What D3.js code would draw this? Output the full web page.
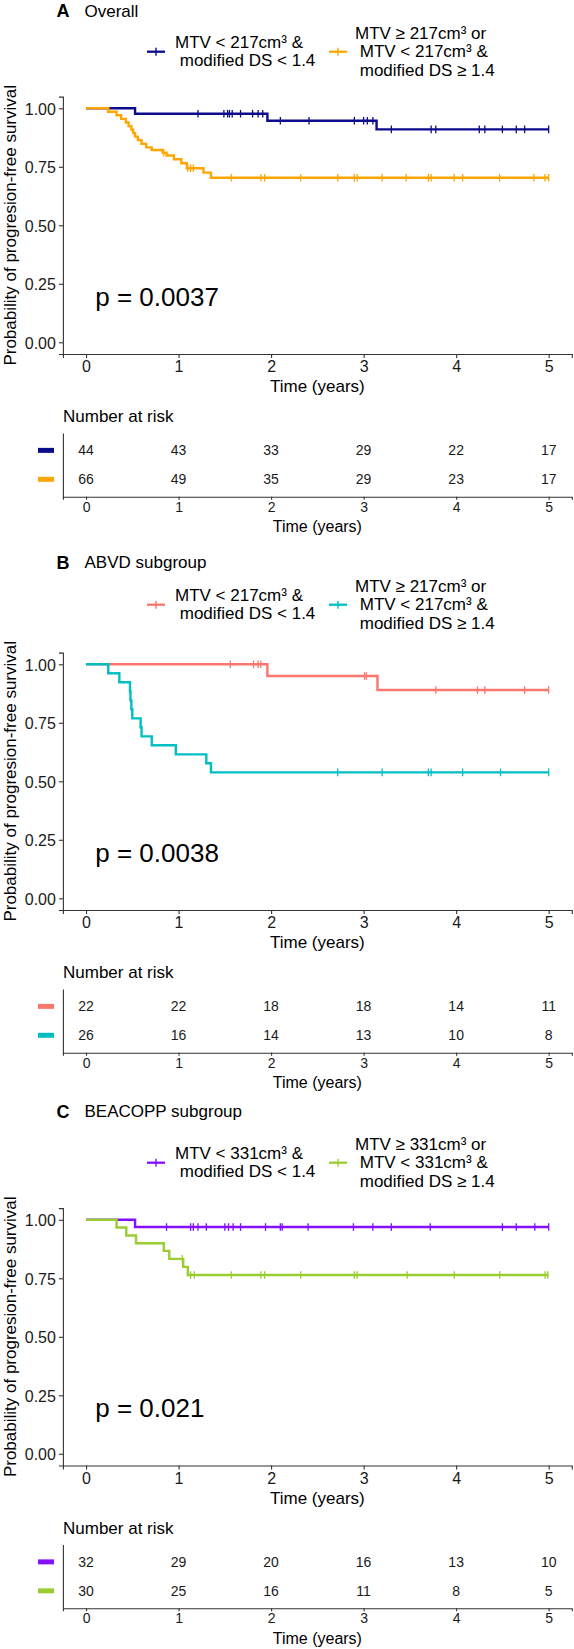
<!DOCTYPE html>
<html><head><meta charset="utf-8">
<script src="https://cdn.jsdelivr.net/npm/d3@7"></script>
<style>
body{margin:0;background:#fff;}
text{font-family:"Liberation Sans",Arial,Helvetica,sans-serif;font-weight:normal;}
</style></head><body>
<svg id="chart" width="574" height="1649" xmlns="http://www.w3.org/2000/svg"></svg>
<script>
// ---------- shared ticks ----------
const timeTicks = [0, 1, 2, 3, 4, 5];
const survTicks = [0, 0.25, 0.5, 0.75, 1];
const survTickLabels = ["0.00", "0.25", "0.50", "0.75", "1.00"];

// ---------- Panel A: Overall ----------
const aLowLabel = ["MTV < 217cm³ &", " modified DS < 1.4"];
const aHighLabel = ["MTV ≥ 217cm³ or", " MTV < 217cm³ &", " modified DS ≥ 1.4"];
const aLowStepT = [0.53, 1.96, 3.14];
const aLowStepS = [0.977, 0.947, 0.910];
const aLowCensor = [1.21, 1.49, 1.53, 1.55, 1.58, 1.67, 1.80, 1.86, 1.91, 2.10, 2.41, 2.90, 3.00, 3.04, 3.10,
                    3.30, 3.73, 3.78, 4.25, 4.31, 4.50, 4.65, 4.74, 5.0];
const aHighStepT = [0.24, 0.33, 0.38, 0.43, 0.46, 0.49, 0.51, 0.53, 0.56, 0.60, 0.65, 0.71, 0.83, 0.87, 0.95, 1.03, 1.09, 1.27, 1.35];
const aHighStepS = [0.985, 0.970, 0.955, 0.939, 0.924, 0.909, 0.894, 0.879, 0.864, 0.848, 0.833, 0.822, 0.810, 0.798, 0.782, 0.765, 0.744, 0.725, 0.703];
const aHighCensor = [0.84, 1.10, 1.13, 1.16, 1.57, 1.89, 1.93, 2.32, 2.72, 2.90, 2.93, 3.20, 3.46, 3.70, 3.73,
                     3.98, 4.07, 4.47, 4.84, 4.96, 5.0];
const aRiskLow = [44, 43, 33, 29, 22, 17];
const aRiskHigh = [66, 49, 35, 29, 23, 17];
const aPval = "p = 0.0037";

// ---------- Panel B: ABVD subgroup ----------
const bLowLabel = ["MTV < 217cm³ &", " modified DS < 1.4"];
const bHighLabel = ["MTV ≥ 217cm³ or", " MTV < 217cm³ &", " modified DS ≥ 1.4"];
const bLowStepT = [1.96, 3.15];
const bLowStepS = [0.950, 0.890];
const bLowCensor = [1.56, 1.81, 1.86, 1.89, 3.01, 3.03, 3.78, 4.23, 4.31, 4.74, 5.0];
const bHighStepT = [0.24, 0.36, 0.475, 0.48, 0.49, 0.50, 0.59, 0.60, 0.71, 0.97, 1.30, 1.35];
const bHighStepS = [0.962, 0.923, 0.885, 0.846, 0.808, 0.769, 0.731, 0.692, 0.654, 0.615, 0.577, 0.538];
const bHighCensor = [2.72, 3.20, 3.70, 3.73, 4.07, 4.48, 5.0];
const bRiskLow = [22, 22, 18, 18, 14, 11];
const bRiskHigh = [26, 16, 14, 13, 10, 8];
const bPval = "p = 0.0038";

// ---------- Panel C: BEACOPP subgroup ----------
const cLowLabel = ["MTV < 331cm³ &", " modified DS < 1.4"];
const cHighLabel = ["MTV ≥ 331cm³ or", " MTV < 331cm³ &", " modified DS ≥ 1.4"];
const cLowStepT = [0.53];
const cLowStepS = [0.969];
const cLowCensor = [0.87, 1.13, 1.16, 1.21, 1.30, 1.50, 1.54, 1.59, 1.67, 1.94, 2.10, 2.12, 2.40, 2.89, 3.10,
                    3.30, 3.72, 4.50, 4.65, 4.85, 5.0];
const cHighStepT = [0.33, 0.435, 0.54, 0.84, 0.90, 1.05, 1.10];
const cHighStepS = [0.967, 0.933, 0.900, 0.867, 0.833, 0.799, 0.764];
const cHighCensor = [1.04, 1.13, 1.17, 1.57, 1.89, 1.93, 2.32, 2.90, 2.93, 3.47, 3.98, 4.47, 4.96, 4.99];
const cRiskLow = [32, 29, 20, 16, 13, 10];
const cRiskHigh = [30, 25, 16, 11, 8, 5];
const cPval = "p = 0.021";

// ---------- styling / layout ----------
const FONT = '"Liberation Sans",Arial,Helvetica,sans-serif';
const AXIS_COL = "#333333";
const TXT_COL = "#1a1a1a";

const panels = [
  {letter: "A", title: "Overall", titleY: 11, legendDy: 0, plotDy: 0,
   colors: ["#0B0B8C", "#FFA500"], labels: [aLowLabel, aHighLabel],
   steps: [[aLowStepT, aLowStepS], [aHighStepT, aHighStepS]],
   censor: [aLowCensor, aHighCensor], risk: [aRiskLow, aRiskHigh], pval: aPval},
  {letter: "B", title: "ABVD subgroup", titleY: 562.5, legendDy: 553, plotDy: 556,
   colors: ["#F8766D", "#00BFC4"], labels: [bLowLabel, bHighLabel],
   steps: [[bLowStepT, bLowStepS], [bHighStepT, bHighStepS]],
   censor: [bLowCensor, bHighCensor], risk: [bRiskLow, bRiskHigh], pval: bPval},
  {letter: "C", title: "BEACOPP subgroup", titleY: 1111.5, legendDy: 1111, plotDy: 1111.5,
   colors: ["#8410FF", "#9ACD32"], labels: [cLowLabel, cHighLabel],
   steps: [[cLowStepT, cLowStepS], [cHighStepT, cHighStepS]],
   censor: [cLowCensor, cHighCensor], risk: [cRiskLow, cRiskHigh], pval: cPval}
];

const svg = d3.select("#chart");

function survAt(T, S, t) {
  let s = 1;
  for (let i = 0; i < T.length; i++) if (T[i] <= t) s = S[i];
  return s;
}

function styleAxis(g, fontSize) {
  g.select(".domain").attr("stroke", AXIS_COL).attr("stroke-width", 1.1);
  g.selectAll(".tick line").attr("stroke", AXIS_COL).attr("stroke-width", 1.1);
  g.selectAll(".tick text").attr("fill", TXT_COL).style("font-size", fontSize + "px").style("font-family", FONT);
}

function drawPanel(p) {
  // ----- title -----
  const tg = svg.append("g");
  tg.append("text").attr("x", 56.5).attr("y", p.titleY).attr("dominant-baseline", "central")
    .style("font-size", "18px").style("font-weight", "bold").attr("fill", "#000").text(p.letter);
  tg.append("text").attr("x", 84.5).attr("y", p.titleY).attr("dominant-baseline", "central")
    .style("font-size", "17px").attr("fill", "#000").text(p.title);

  // ----- legend -----
  const lg = svg.append("g").attr("transform", `translate(0,${p.legendDy})`);
  const keyX = [156, 338], textX = [175, 355], legY = 51.7, lineH = 18.3;
  p.labels.forEach((lab, i) => {
    const c = p.colors[i];
    lg.append("line").attr("x1", keyX[i] - 9).attr("x2", keyX[i] + 9).attr("y1", legY).attr("y2", legY)
      .attr("stroke", c).attr("stroke-width", 2.3);
    lg.append("line").attr("x1", keyX[i]).attr("x2", keyX[i]).attr("y1", legY - 4).attr("y2", legY + 4)
      .attr("stroke", c).attr("stroke-width", 1.4);
    const y0 = legY - (lab.length - 1) * lineH / 2;
    lab.forEach((ln, j) => {
      lg.append("text").attr("x", textX[i]).attr("y", y0 + j * lineH).attr("dominant-baseline", "central")
        .attr("xml:space", "preserve").style("white-space", "pre")
        .style("font-size", "17px").attr("fill", "#000").text(ln);
    });
  });

  // ----- survival plot -----
  const pg = svg.append("g").attr("transform", `translate(0,${p.plotDy})`);
  const x = d3.scaleLinear().domain([-0.25, 5.25]).range([62.9, 571.8]);
  const y = d3.scaleLinear().domain([-0.05, 1.05]).range([354.0, 96.6]);

  const xAx = pg.append("g").attr("transform", `translate(0,${y(-0.05)})`)
    .call(d3.axisBottom(x).tickValues(timeTicks).tickFormat(d3.format("d")).tickSizeOuter(0).tickSize(4).tickPadding(3));
  styleAxis(xAx, 16);
  const yAx = pg.append("g").attr("transform", `translate(${x(-0.25)},0)`)
    .call(d3.axisLeft(y).tickValues(survTicks).tickFormat((d, i) => survTickLabels[i]).tickSizeOuter(0).tickSize(4).tickPadding(3));
  styleAxis(yAx, 16);
  yAx.selectAll(".tick text").attr("dy", "0.36em");

  pg.append("text").attr("x", (x(-0.25) + x(5.25)) / 2).attr("y", 386.7).attr("text-anchor", "middle")
    .attr("dominant-baseline", "central").style("font-size", "17px").attr("fill", "#000").text("Time (years)");
  pg.append("text").attr("transform", `translate(10,${(y(-0.05) + y(1.05)) / 2}) rotate(-90)`)
    .attr("text-anchor", "middle").attr("dominant-baseline", "central")
    .style("font-size", "17px").attr("fill", "#000").text("Probability of progresion-free survival");

  const line = d3.line().x(d => x(d[0])).y(d => y(d[1])).curve(d3.curveStepAfter);
  p.steps.forEach(([T, S], i) => {
    const pts = [[0, 1]];
    T.forEach((t, k) => pts.push([t, S[k]]));
    pts.push([5, S.length ? S[S.length - 1] : 1]);
    pg.append("path").datum(pts).attr("d", line).attr("fill", "none")
      .attr("stroke", p.colors[i]).attr("stroke-width", 2.4).attr("stroke-linejoin", "miter");
    pg.selectAll(null).data(p.censor[i]).enter().append("line")
      .attr("x1", d => x(d)).attr("x2", d => x(d))
      .attr("y1", d => y(survAt(T, S, d)) - 3.8).attr("y2", d => y(survAt(T, S, d)) + 3.8)
      .attr("stroke", p.colors[i]).attr("stroke-width", 1.3);
  });

  pg.append("text").attr("x", x(0.1)).attr("y", y(0.195)).attr("dominant-baseline", "central")
    .style("font-size", "26px").attr("fill", "#000").text(p.pval);

  // ----- risk table -----
  pg.append("text").attr("x", 63).attr("y", 416.7).attr("dominant-baseline", "central")
    .style("font-size", "17px").attr("fill", "#000").text("Number at risk");
  const ry = d3.scaleLinear().domain([0.4, 2.6]).range([496.7, 433]);
  const rxAx = pg.append("g").attr("transform", `translate(0,${ry(0.4)})`)
    .call(d3.axisBottom(x).tickValues(timeTicks).tickFormat(d3.format("d")).tickSizeOuter(0).tickSize(3).tickPadding(2));
  styleAxis(rxAx, 14);
  const ryAx = pg.append("g").attr("transform", `translate(${x(-0.25)},0)`)
    .call(d3.axisLeft(ry).tickValues([]).tickSizeOuter(0));
  styleAxis(ryAx, 14);
  pg.append("text").attr("x", (x(-0.25) + x(5.25)) / 2).attr("y", 526.7).attr("text-anchor", "middle")
    .attr("dominant-baseline", "central").style("font-size", "16px").attr("fill", "#000").text("Time (years)");

  p.risk.forEach((vals, i) => {
    const rowY = ry(2 - i);
    pg.append("line").attr("x1", 38).attr("x2", 54).attr("y1", rowY).attr("y2", rowY)
      .attr("stroke", p.colors[i]).attr("stroke-width", 5);
    pg.selectAll(null).data(vals).enter().append("text")
      .attr("x", (d, k) => x(timeTicks[k])).attr("y", rowY).attr("text-anchor", "middle")
      .attr("dominant-baseline", "central").style("font-size", "14px").attr("fill", TXT_COL).text(d => d);
  });
}

panels.forEach(drawPanel);
</script>
</body></html>
